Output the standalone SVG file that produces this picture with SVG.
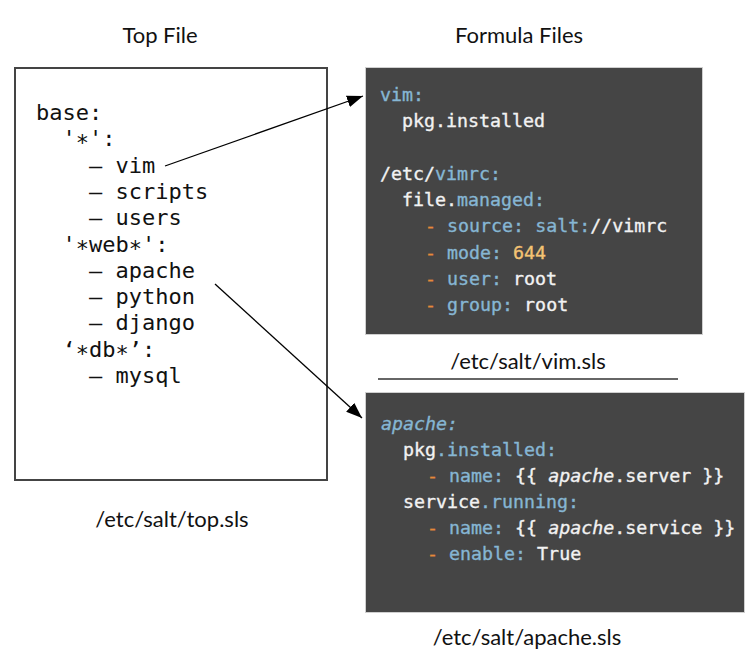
<svg xmlns="http://www.w3.org/2000/svg" width="756" height="669" viewBox="0 0 756 669">
<defs>
<marker id="ah2" viewBox="0 0 16 12" refX="16" refY="6" markerWidth="16" markerHeight="12" markerUnits="userSpaceOnUse" orient="auto">
<path d="M0,0 L16,6 L0,12 z" fill="#000"/>
</marker>
</defs>
<style>
.lbl{font-family:Lato,"Liberation Sans",sans-serif;font-size:22px;fill:#111;text-anchor:middle}
.top{font-family:"DejaVu Sans Mono",monospace;font-size:22px;fill:#111}
.code{font-family:"DejaVu Sans Mono",monospace;font-size:18.3px;fill:#f2f2f2;stroke:#f2f2f2;stroke-width:0.35}
.k{fill:#86b6d3;stroke:#86b6d3}
.d{fill:#e58a3a;stroke:#e58a3a}
.n{fill:#f4c373;stroke:#f4c373}
.box{fill:#454545;stroke:#cfcfcf;stroke-width:1}
.conn{stroke:#000;stroke-width:1.3;fill:none}
</style>
<rect width="756" height="669" fill="#fff"/>
<text class="lbl" x="160" y="43">Top File</text>
<text class="lbl" x="519" y="43">Formula Files</text>
<g id="topfile">
<rect x="15" y="68" width="312" height="412" fill="#fff" stroke="#444" stroke-width="2"/>
<text class="top" xml:space="preserve"><tspan x="36" y="120">base:</tspan><tspan x="36" y="146.3">  '∗':</tspan><tspan x="36" y="172.6">    – vim</tspan><tspan x="36" y="198.9">    – scripts</tspan><tspan x="36" y="225.2">    – users</tspan><tspan x="36" y="251.5">  '∗web∗':</tspan><tspan x="36" y="277.8">    – apache</tspan><tspan x="36" y="304.1">    – python</tspan><tspan x="36" y="330.4">    – django</tspan><tspan x="36" y="356.7">  ‘∗db∗’:</tspan><tspan x="36" y="383">    – mysql</tspan></text>
<text class="lbl" x="172" y="527" font-size="21">/etc/salt/top.sls</text>
</g>
<g id="vimsls">
<rect class="box" x="365.5" y="67.5" width="337" height="267"/>
<text class="code" xml:space="preserve"><tspan x="380" y="101" class="k">vim:</tspan><tspan x="380" y="127">  pkg.installed</tspan><tspan x="380" y="180">/etc/<tspan class="k">vimrc:</tspan></tspan><tspan x="380" y="206">  file.<tspan class="k">managed:</tspan></tspan><tspan x="381" y="232">    <tspan class="d">-</tspan> <tspan class="k">source:</tspan> <tspan class="k">salt:</tspan>//vimrc</tspan><tspan x="381" y="258.5">    <tspan class="d">-</tspan> <tspan class="k">mode:</tspan> <tspan class="n">644</tspan></tspan><tspan x="381" y="285">    <tspan class="d">-</tspan> <tspan class="k">user:</tspan> root</tspan><tspan x="381" y="311">    <tspan class="d">-</tspan> <tspan class="k">group:</tspan> root</tspan></text>
<text class="lbl" x="528" y="369">/etc/salt/vim.sls</text>
<line x1="378" y1="379" x2="678" y2="379" stroke="#333" stroke-width="1.6"/>
</g>
<g id="apachesls">
<rect class="box" x="365.5" y="392.5" width="379" height="220"/>
<text class="code" xml:space="preserve"><tspan x="381" y="430" class="k" font-style="italic">apache:</tspan><tspan x="381" y="456">  pkg<tspan class="k">.installed:</tspan></tspan><tspan x="383" y="482">    <tspan class="d">-</tspan> <tspan class="k">name:</tspan> {{ <tspan font-style="italic">apache</tspan>.server }}</tspan><tspan x="381" y="508">  service<tspan class="k">.running:</tspan></tspan><tspan x="383" y="534">    <tspan class="d">-</tspan> <tspan class="k">name:</tspan> {{ <tspan font-style="italic">apache</tspan>.service }}</tspan><tspan x="383" y="560">    <tspan class="d">-</tspan> <tspan class="k">enable:</tspan> True</tspan></text>
<text class="lbl" x="527" y="645">/etc/salt/apache.sls</text>
</g>
<g id="connectors">
<line class="conn" x1="165" y1="166" x2="363" y2="96" marker-end="url(#ah2)"/>
<line class="conn" x1="215" y1="284" x2="362" y2="418" marker-end="url(#ah2)"/>
</g>
</svg>
